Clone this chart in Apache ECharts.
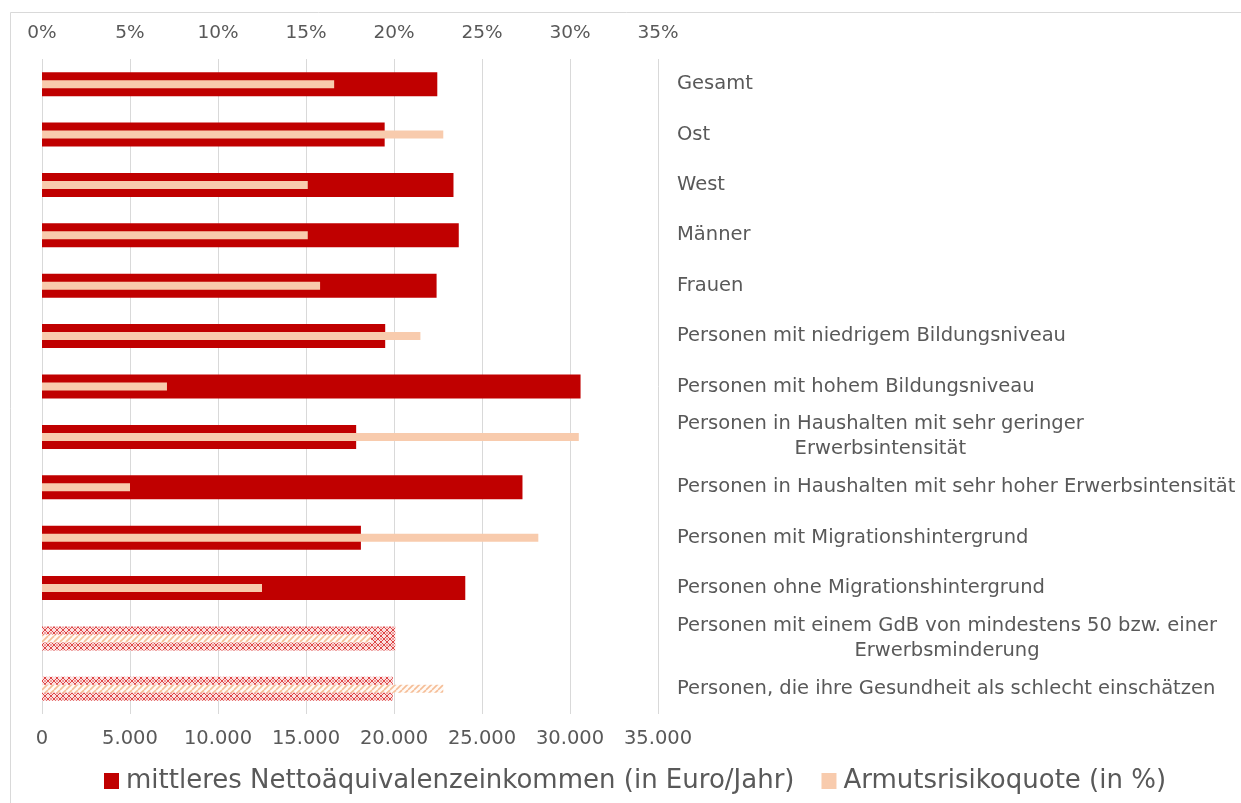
<!DOCTYPE html>
<html>
<head>
<meta charset="utf-8">
<script src="https://cdn.jsdelivr.net/npm/echarts@6/dist/echarts.min.js"></script>
<style>
  html, body { margin: 0; padding: 0; background: #ffffff; }
  #chart { width: 1241px; height: 803px; }
</style>
</head>
<body>
<div id="chart"></div>
<script>
// Groups shown on the category axis (top to bottom)
const categories = [
  'Gesamt',
  'Ost',
  'West',
  'Männer',
  'Frauen',
  'Personen mit niedrigem Bildungsniveau',
  'Personen mit hohem Bildungsniveau',
  'Personen in Haushalten mit sehr geringer\nErwerbsintensität',
  'Personen in Haushalten mit sehr hoher Erwerbsintensität',
  'Personen mit Migrationshintergrund',
  'Personen ohne Migrationshintergrund',
  'Personen mit einem GdB von mindestens 50 bzw. einer\nErwerbsminderung',
  'Personen, die ihre Gesundheit als schlecht einschätzen'
];

// Median net equivalised income, Euro per year
const income = [22460, 19470, 23380, 23680, 22420, 19500, 30600, 17850, 27300, 18120, 24050, 20070, 19930];

// At-risk-of-poverty rate, percent
const povertyRate = [16.6, 22.8, 15.1, 15.1, 15.8, 21.5, 7.1, 30.5, 5.0, 28.2, 12.5, 18.7, 22.8];

// Groups drawn with a hatched fill
const hatched = [false, false, false, false, false, false, false, false, false, false, false, true, true];

// Axis ticks
const euroTicks = [0, 5000, 10000, 15000, 20000, 25000, 30000, 35000];
const percentTicks = [0, 5, 10, 15, 20, 25, 30, 35];

const seriesNames = ['mittleres Nettoäquivalenzeinkommen (in Euro/Jahr)', 'Armutsrisikoquote (in %)'];

const DARK = '#c00000';
const LIGHT = '#f8cbad';
const TEXT = '#595959';
const GRID = '#d9d9d9';
const FONT = 'DejaVu Sans';

// Crosshatch tile for the hatched income bars
function crossPattern() {
  const c = document.createElement('canvas');
  c.width = 6; c.height = 6;
  const g = c.getContext('2d');
  g.fillStyle = '#fbe0e0';
  g.fillRect(0, 0, 6, 6);
  g.fillStyle = '#de4646';
  // small diamond chain
  g.fillRect(2, 0, 2, 1);
  g.fillRect(1, 1, 1, 1); g.fillRect(4, 1, 1, 1);
  g.fillRect(0, 2, 1, 2); g.fillRect(5, 2, 1, 2);
  g.fillRect(1, 4, 1, 1); g.fillRect(4, 4, 1, 1);
  g.fillRect(2, 5, 2, 1);
  g.fillStyle = '#f0a0a0';
  g.fillRect(2, 2, 2, 2);
  return c;
}

// Diagonal stripe tile for the hatched poverty-rate bars
function stripePattern() {
  const c = document.createElement('canvas');
  c.width = 6; c.height = 6;
  const g = c.getContext('2d');
  g.fillStyle = '#fffaf6';
  g.fillRect(0, 0, 6, 6);
  g.strokeStyle = '#f5bd96';
  g.lineWidth = 1.6;
  for (let k = -6; k <= 12; k += 6) {
    g.beginPath();
    g.moveTo(k, 6);
    g.lineTo(k + 6, 0);
    g.stroke();
  }
  return c;
}

const crossFill = { image: crossPattern(), repeat: 'repeat' };
const stripeFill = { image: stripePattern(), repeat: 'repeat' };

function germanThousands(v) {
  return String(v).replace(/\B(?=(\d{3})+(?!\d))/g, '.');
}

const incomeData = income.map((v, i) => hatched[i] ? { value: v, itemStyle: { color: crossFill } } : v);
const rateData = povertyRate.map((v, i) => hatched[i] ? { value: v, itemStyle: { color: stripeFill } } : v);

const chart = echarts.init(document.getElementById('chart'), null, { renderer: 'canvas' });

chart.setOption({
  backgroundColor: '#ffffff',
  animation: false,
  textStyle: { fontFamily: FONT },
  graphic: [{
    type: 'rect',
    silent: true,
    shape: { x: 10.5, y: 12.5, width: 1400, height: 1000 },
    style: { fill: 'none', stroke: GRID, lineWidth: 1 },
    z: -10
  }],
  grid: { left: 42, right: 583, top: 59, bottom: 89, containLabel: false },
  legend: {
    left: 99,
    top: 763,
    itemGap: 27,
    itemWidth: 15,
    itemHeight: 16,
    icon: 'rect',
    textStyle: { fontSize: 26, color: TEXT, fontFamily: FONT, padding: [0, 0, 0, 2] },
    data: seriesNames
  },
  xAxis: [
    {
      type: 'value',
      position: 'bottom',
      min: euroTicks[0],
      max: euroTicks[euroTicks.length - 1],
      interval: euroTicks[1] - euroTicks[0],
      axisLine: { show: false },
      axisTick: { show: false },
      splitLine: { show: true, lineStyle: { color: GRID, width: 1 } },
      axisLabel: {
        margin: 15,
        fontSize: 19.5,
        color: TEXT,
        fontFamily: FONT,
        formatter: v => germanThousands(v)
      }
    },
    {
      type: 'value',
      position: 'top',
      min: percentTicks[0],
      max: percentTicks[percentTicks.length - 1],
      interval: percentTicks[1] - percentTicks[0],
      axisLine: { show: false },
      axisTick: { show: false },
      splitLine: { show: false },
      axisLabel: {
        margin: 16,
        fontSize: 18.5,
        color: TEXT,
        fontFamily: FONT,
        formatter: v => v + '%'
      }
    }
  ],
  yAxis: [
    {
      type: 'category',
      data: categories,
      inverse: true,
      position: 'right',
      axisLine: { show: false },
      axisTick: { show: false },
      splitLine: { show: false },
      axisLabel: {
        margin: 19,
        align: 'left',
        formatter: v => {
          const lines = v.split('\n');
          return lines.map((l, i) => (i === 0 ? '{a|' : '{b|') + l + '}').join('\n');
        },
        rich: {
          a: { fontSize: 19.5, color: TEXT, fontFamily: FONT, lineHeight: 25 },
          b: { fontSize: 19.5, color: TEXT, fontFamily: FONT, lineHeight: 25, align: 'center' }
        }
      }
    },
    {
      type: 'category',
      data: categories,
      inverse: true,
      show: false
    }
  ],
  series: [
    {
      name: seriesNames[0],
      type: 'bar',
      xAxisIndex: 0,
      yAxisIndex: 0,
      barWidth: 24,
      itemStyle: { color: DARK },
      data: incomeData,
      z: 2
    },
    {
      name: seriesNames[1],
      type: 'bar',
      xAxisIndex: 1,
      yAxisIndex: 1,
      barWidth: 8,
      itemStyle: { color: LIGHT },
      data: rateData,
      z: 3
    }
  ]
});
</script>
</body>
</html>
